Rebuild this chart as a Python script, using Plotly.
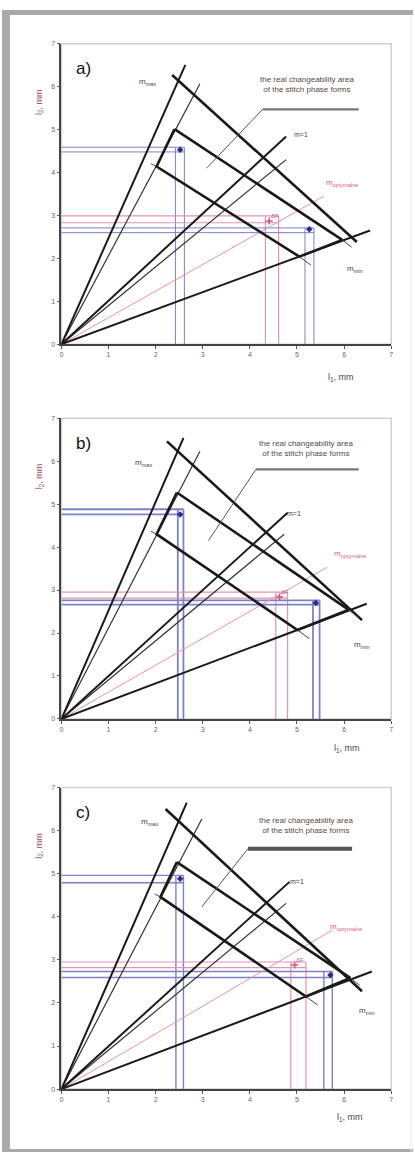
import plotly.graph_objects as go

# --- values (data units, mm) ---
panel_names = ["a)", "b)", "c)"]

ray_mmax_end = [(2.63, 6.51), (2.59, 6.54), (2.66, 6.65)]
ray_steep_end = [(2.94, 6.07), (2.94, 6.23), (2.98, 6.27)]
ray_m1_end = [(4.77, 4.84), (4.80, 4.80), (4.84, 4.81)]
ray_m1b_end = [(4.77, 4.30), (4.73, 4.30), (4.77, 4.31)]
ray_opt_end = [(5.57, 3.45), (5.64, 3.53), (5.75, 3.69)]
ray_mmin_end = [(6.55, 2.65), (6.48, 2.68), (6.59, 2.73)]

outer_line = [
    [(2.35, 6.27), (6.27, 2.38)],
    [(2.24, 6.46), (6.38, 2.30)],
    [(2.21, 6.50), (6.38, 2.27)],
]
# quadrilateral A (top), B (left), C (bottom), D (right)
quad = [
    [(2.40, 5.01), (2.02, 4.14), (5.05, 2.04), (5.96, 2.43)],
    [(2.45, 5.27), (2.02, 4.30), (5.01, 2.07), (6.10, 2.54)],
    [(2.45, 5.27), (2.10, 4.46), (5.19, 2.15), (6.13, 2.58)],
]
leader = [
    [(3.08, 4.10), (4.27, 5.47), (6.31, 5.47)],
    [(3.12, 4.15), (4.13, 5.81), (6.31, 5.81)],
    [(2.98, 4.23), (3.96, 5.58), (6.17, 5.58)],
]

# coordinate bands: point, two horizontal levels, two vertical levels
blue1_pt = [(2.52, 4.53), (2.52, 4.76), (2.52, 4.88)]
blue1_hy = [(4.59, 4.48), (4.88, 4.76), (4.96, 4.79)]
blue1_vx = [(2.42, 2.61), (2.47, 2.59), (2.43, 2.59)]
pink_pt = [(4.41, 2.87), (4.63, 2.84), (4.95, 2.88)]
pink_hy = [(2.99, 2.83), (2.95, 2.81), (2.95, 2.82)]
pink_vx = [(4.33, 4.61), (4.55, 4.80), (4.87, 5.19)]
blue2_pt = [(5.26, 2.68), (5.40, 2.70), (5.71, 2.65)]
blue2_hy = [(2.71, 2.60), (2.76, 2.66), (2.73, 2.59)]
blue2_vx = [(5.17, 5.36), (5.34, 5.48), (5.57, 5.75)]

ticks = [0, 1, 2, 3, 4, 5, 6, 7]

# label anchors (data units)
lbl_mmax = [(1.82, 6.10), (1.75, 5.96), (1.86, 6.19)]
lbl_m1 = [(5.08, 4.88), (4.94, 4.77), (5.01, 4.81)]
lbl_opt = [(5.96, 3.76), (6.13, 3.84), (6.03, 3.77)]
lbl_mmin = [(6.24, 1.75), (6.38, 1.72), (6.48, 1.81)]
lbl_area = [(5.22, 6.05), (5.19, 6.30), (5.19, 6.12)]
lbl_xtitle = [(6.25, -0.94), (6.38, -0.87), (6.45, -0.84)]

W, H = 415, 1155
y_domains = [
    [1 - 342.3 / H, 1 - 40 / H],
    [1 - 719.3 / H, 1 - 416.7 / H],
    [1 - 1091.7 / H, 1 - 788.3 / H],
]
x_domain = [60 / W, 393 / W]

BLACK = "#1a1a1a"
BLUE = "#7c82c4"
BLUE_DARK = "#2a2a90"
PINK = "#e393ad"
FONT = "Liberation Sans, Arial, sans-serif"

fig = go.Figure()


def seg(i, pts, color, width):
    fig.add_trace(
        go.Scatter(
            x=[p[0] for p in pts],
            y=[p[1] for p in pts],
            mode="lines",
            line=dict(color=color, width=width),
            xaxis=f"x{i + 1 if i else ''}",
            yaxis=f"y{i + 1 if i else ''}",
            hoverinfo="skip",
            showlegend=False,
        )
    )


def band(i, hy, vx, color, width):
    xr = max(vx)
    yt = max(hy)
    for h in hy:
        seg(i, [(0, h), (xr, h)], color, width)
    for v in vx:
        seg(i, [(v, 0), (v, yt)], color, width)


band_w = [1.0, 1.8, 1.4]

for i in range(3):
    xa = f"x{i + 1 if i else ''}"
    ya = f"y{i + 1 if i else ''}"

    # coordinate bands first (below)
    band(i, blue1_hy[i], blue1_vx[i], BLUE, band_w[i])
    band(i, pink_hy[i], pink_vx[i], PINK, 1.2)
    band(i, blue2_hy[i], blue2_vx[i], BLUE, band_w[i])

    # rays from the origin
    seg(i, [(0, 0), ray_opt_end[i]], PINK, 1)
    seg(i, [(0, 0), ray_steep_end[i]], "#333333", 1.2)
    seg(i, [(0, 0), ray_m1b_end[i]], "#333333", 1.2)
    seg(i, [(0, 0), ray_mmax_end[i]], BLACK, 2)
    seg(i, [(0, 0), ray_m1_end[i]], BLACK, 2)
    seg(i, [(0, 0), ray_mmin_end[i]], BLACK, 2)

    # area outline
    seg(i, outer_line[i], BLACK, 2.6)
    a, b, c, d = quad[i]
    seg(i, [a, b, c, d, a], BLACK, 2.6)
    # small extension strokes at the corners
    seg(i, [b, (b[0] - 0.12, b[1] + 0.07)], "#444444", 1)
    seg(i, [c, (c[0] + 0.25, c[1] - 0.2)], "#444444", 1)
    seg(i, [d, (d[0] + 0.2, d[1] - 0.17)], "#444444", 1)

    # leader to the label
    lp = leader[i]
    seg(i, lp[:2], "#555555", 1)
    seg(i, lp[1:], "#777777" if i < 2 else "#555555", 2.2 if i < 2 else 4)

    # points
    fig.add_trace(
        go.Scatter(
            x=[blue1_pt[i][0], blue2_pt[i][0]],
            y=[blue1_pt[i][1], blue2_pt[i][1]],
            mode="markers",
            marker=dict(color=BLUE_DARK, size=5, symbol="diamond"),
            xaxis=xa,
            yaxis=ya,
            hoverinfo="skip",
            showlegend=False,
        )
    )
    fig.add_trace(
        go.Scatter(
            x=[pink_pt[i][0]],
            y=[pink_pt[i][1]],
            mode="markers",
            marker=dict(color="#c85a80", size=5, symbol="cross-thin",
                        line=dict(color="#c85a80", width=1.5)),
            xaxis=xa,
            yaxis=ya,
            hoverinfo="skip",
            showlegend=False,
        )
    )

    def note(pos, text, size=8, color="#444444", **kw):
        fig.add_annotation(x=pos[0], y=pos[1], xref=xa, yref=ya, text=text,
                           showarrow=False, font=dict(family=FONT, size=size, color=color), **kw)

    note((0.46, 6.42), panel_names[i], size=17, color="#111111")
    note(lbl_mmax[i], "m<sub>max</sub>", size=8)
    note(lbl_m1[i], "m=1", size=7)
    note(lbl_opt[i], "m<sub>optymalne</sub>", size=8, color="#d0608a")
    note(lbl_mmin[i], "m<sub>min</sub>", size=8)
    note(lbl_area[i], "the real changeability area<br>of the stitch phase forms", size=8,
         color="#5a4a40")
    note((pink_pt[i][0] + 0.12, pink_pt[i][1] + 0.12), "ΔF", size=6, color="#c85a80")
    fig.add_annotation(x=lbl_xtitle[i][0] / 7, y=lbl_xtitle[i][1] / 7,
                       xref=f"{xa} domain", yref=f"{ya} domain", text="l<sub>1</sub>, mm",
                       showarrow=False, font=dict(family=FONT, size=9, color="#444444"))
    fig.add_annotation(x=30 / W, y=6.0 / 7, xref="paper", yref=f"{ya} domain",
                       text="l<sub>2</sub>, mm", textangle=-90, showarrow=False,
                       font=dict(family=FONT, size=9, color="#9a5555"))

    # light frame on top / right
    fig.add_shape(type="rect", xref=f"{xa} domain", yref=f"{ya} domain",
                  x0=0, x1=1, y0=0, y1=1, line=dict(color="#d0d0d0", width=1.5), layer="below")

    axis_common = dict(
        range=[0, 7],
        tickvals=ticks,
        ticks="outside",
        ticklen=3,
        tickcolor="#555555",
        showline=True,
        linecolor="#444444",
        linewidth=1.5,
        showgrid=False,
        zeroline=False,
        tickfont=dict(family=FONT, size=7, color="#666666"),
        fixedrange=True,
    )
    suffix = str(i + 1) if i else ""
    fig.update_layout(
        **{
            f"xaxis{suffix}": dict(domain=x_domain, anchor=ya, **axis_common),
            f"yaxis{suffix}": dict(domain=y_domains[i], anchor=xa, **axis_common),
        }
    )

# outer gray frame of the picture
GRAY = "#a9a9a9"
fig.add_shape(type="rect", xref="paper", yref="paper", x0=0, x1=8 / W, y0=0, y1=1 - 6 / H,
              fillcolor=GRAY, line_width=0, layer="below")
fig.add_shape(type="rect", xref="paper", yref="paper", x0=0, x1=1, y0=1 - 11 / H, y1=1 - 6 / H,
              fillcolor=GRAY, line_width=0, layer="below")
fig.add_shape(type="rect", xref="paper", yref="paper", x0=0, x1=1, y0=0, y1=3 / H,
              fillcolor=GRAY, line_width=0, layer="below")
fig.add_shape(type="line", xref="paper", yref="paper", x0=1 - 2 / W, x1=1 - 2 / W, y0=0, y1=1 - 11 / H,
              line=dict(color="#e6e6e6", width=1), layer="below")

fig.update_layout(
    width=W,
    height=H,
    margin=dict(l=0, r=0, t=0, b=0),
    paper_bgcolor="white",
    plot_bgcolor="white",
    showlegend=False,
)

# the page has a default body margin; drop it so the figure sits at the corner
fig.write_html(
    "out.html",
    config={"displayModeBar": False},
    post_script="document.body.style.margin = '0';",
)
